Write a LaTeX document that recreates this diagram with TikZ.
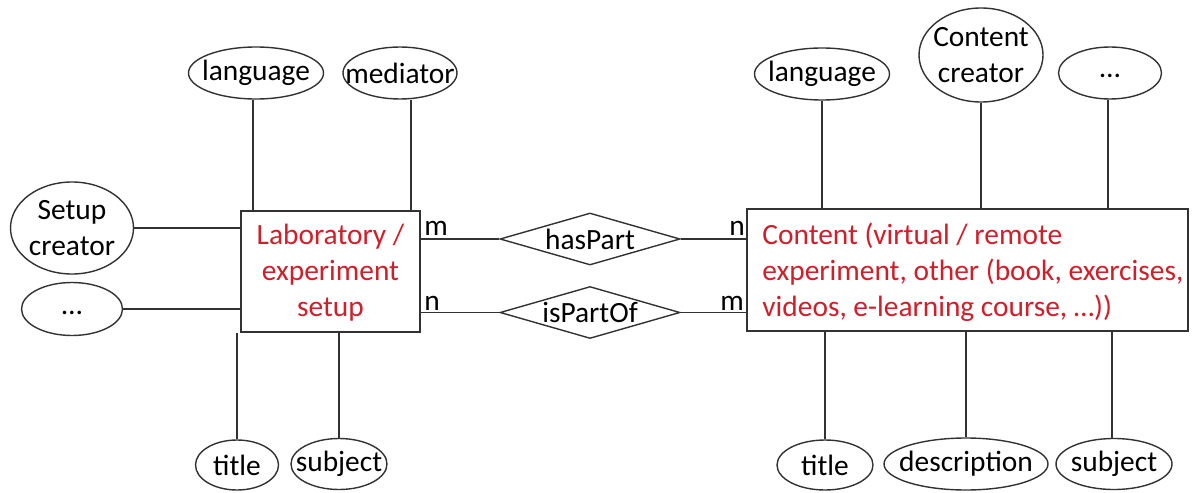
\documentclass[tikz,border=0pt]{standalone}
\usepackage{fontspec}
\setmainfont{Carlito}
\usetikzlibrary{shapes.geometric}
\definecolor{entred}{RGB}{210,30,40}
\definecolor{ln}{RGB}{50,50,50}
\newcommand\zw[1]{\makebox[0pt]{#1}}
\newcommand\lowdots{\raisebox{-2.5pt}[0pt][0pt]{…}}
\begin{document}
\begin{tikzpicture}[x=0.5pt,y=-0.5pt,
  every node/.style={font=\fontsize{14.7}{18}\selectfont, text=black},
  attr/.style={draw=ln, line width=0.7pt, ellipse, inner sep=0pt, align=center},
  entity/.style={draw=ln, line width=0.7pt, rectangle, inner sep=0pt, text=entred},
  rel/.style={draw=ln, line width=0.7pt, diamond, aspect=3.5, inner sep=0pt, minimum width=90pt, minimum height=26pt},
  conn/.style={draw=ln, line width=0.7pt},
  card/.style={anchor=base, inner sep=0pt}]
\useasboundingbox (0,0) rectangle (1197,492);
% entities
\node[entity, minimum width=89.5pt, minimum height=60.5pt] (lab) at (330.5,271.5) {};
\node[inner sep=0pt, align=center, text=entred] (labtext) at (330.5,273) {Laboratory /\\experiment\\setup};
\node[entity, minimum width=220.5pt, minimum height=61pt] (ct) at (967.5,270) {};
\node[anchor=west, inner sep=0pt, align=left, text=entred] (cttext) at (762,272) {Content (virtual / remote\\experiment, other (book, exercises,\\videos, e-learning course, …))};
% relationships
\node[rel] (hp) at (590,239) {hasPart};
\node[rel] (ipo) at (590,312.5) {isPartOf};
% left attributes
\node[attr, minimum width=67.5pt, minimum height=26pt] (lang1) at (256,73) {\zw{language}};
\node[attr, minimum width=57pt, minimum height=26pt] (med) at (400,73) {\zw{mediator}};
\node[attr, minimum width=61.5pt, minimum height=46pt] (sc) at (72,228) {\zw{Setup}\\\zw{creator}};
\node[attr, minimum width=50.5pt, minimum height=26.5pt] (dots1) at (72,309) {\zw{\lowdots}};
\node[attr, minimum width=41.5pt, minimum height=25pt] (t1) at (237,465) {\zw{title}};
\node[attr, minimum width=48pt, minimum height=25.5pt] (s1) at (339,464) {\zw{subject}};
% right attributes
\node[attr, minimum width=67.5pt, minimum height=26pt] (lang2) at (822,74) {\zw{language}};
\node[attr, minimum width=62pt, minimum height=47pt] (cc) at (981,55) {\zw{Content}\\\zw{creator}};
\node[attr, minimum width=51.5pt, minimum height=26pt] (dots2) at (1110,73) {\zw{\lowdots}};
\node[attr, minimum width=48pt, minimum height=25pt] (t2) at (825,465) {\zw{title}};
\node[attr, minimum width=82pt, minimum height=26pt] (desc) at (966,464) {\zw{description}};
\node[attr, minimum width=58pt, minimum height=25.5pt] (s2) at (1114,464) {\zw{subject}};
% connectors left
\draw[conn] ([xshift=-1.5pt]lang1.south) -- ([xshift=-1.5pt]lang1.south |- lab.north);
\draw[conn] ([xshift=5.5pt]med.south) -- ([xshift=5.5pt]med.south |- lab.north);
\draw[conn] (sc.east) -- (sc.east -| lab.west);
\draw[conn] (dots1.east) -- (dots1.east -| lab.west);
\draw[conn] (t1.north) -- (t1.north |- lab.south);
\draw[conn] (s1.north) -- (s1.north |- lab.south);
% connectors right
\draw[conn] (lang2.south) -- (lang2.south |- ct.north);
\draw[conn] (cc.south) -- (cc.south |- ct.north);
\draw[conn] ([xshift=-1pt]dots2.south) -- ([xshift=-1pt]dots2.south |- ct.north);
\draw[conn] (t2.north) -- (t2.north |- ct.south);
\draw[conn] (desc.north) -- (desc.north |- ct.south);
\draw[conn] ([xshift=-1pt]s2.north) -- ([xshift=-1pt]s2.north |- ct.south);
% relationship connectors
\draw[conn] (hp.west -| lab.east) -- (hp.west);
\draw[conn] (hp.east) -- (hp.east -| ct.west);
\draw[conn] (ipo.west -| lab.east) -- (ipo.west);
\draw[conn] (ipo.east) -- (ipo.east -| ct.west);
% cardinalities
\node[card] (c1) at (436,235) {m};
\node[card] (c2) at (432,310) {n};
\node[card] (c3) at (737,235) {n};
\node[card] (c4) at (732,310) {m};
\end{tikzpicture}
\end{document}
